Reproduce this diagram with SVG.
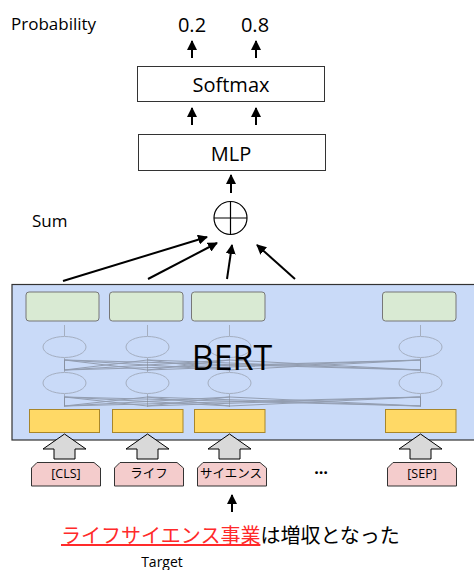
<svg xmlns="http://www.w3.org/2000/svg" width="474" height="570" viewBox="0 0 474 570">
<defs>
<marker id="ah" viewBox="0 0 10 10" refX="9" refY="5" markerWidth="5" markerHeight="5" orient="auto"><path d="M0,0 L10,5 L0,10 z" fill="#000"/></marker>
<style>
text{font-family:"Open Sans","Noto Sans","Noto Sans CJK JP",sans-serif;fill:#000}
.box{fill:#fff;stroke:#333;stroke-width:1}
.arr{stroke:#000;stroke-width:2;fill:none;marker-end:url(#ah)}
.green{fill:#d9ead3;stroke:#777;stroke-width:1}
.yellow{fill:#ffd966;stroke:#a8862a;stroke-width:1}
.ell{fill:none;stroke:#a4aec0;stroke-width:1}
.gl{stroke:#7d8594;stroke-width:1;opacity:0.7}
.vl{stroke:#a4aec0;stroke-width:1}
.blk{fill:#d9d9d9;stroke:#000;stroke-width:1}
.tok{fill:#f4cccc;stroke:#333;stroke-width:1}
.tt{font-size:12.5px;text-anchor:middle}
</style>
</defs>
<rect width="474" height="570" fill="#fff"/>
<g id="probability"><text x="11" y="30" font-size="17">Probability</text></g>
<g id="p02"><text x="192" y="32" font-size="20" text-anchor="middle">0.2</text></g>
<g id="p08"><text x="255" y="32" font-size="20" text-anchor="middle">0.8</text></g>
<g id="softmax"><rect class="box" x="137.5" y="66.5" width="187" height="35"/><text x="231" y="92" font-size="20" text-anchor="middle">Softmax</text></g>
<g id="mlp"><rect class="box" x="138.5" y="134.5" width="187" height="36"/><text x="231" y="161" font-size="20" text-anchor="middle">MLP</text></g>
<g id="sum-label"><text x="32" y="227" font-size="17">Sum</text></g>
<g id="sum"><circle cx="230.5" cy="218" r="16.5" fill="#fff" stroke="#000" stroke-width="1.2"/><path d="M214,218 H247 M230.5,201.5 V234.5" stroke="#000" stroke-width="1.2"/></g>
<g id="bert">
<rect x="12" y="284.5" width="464" height="155.5" fill="#c9daf8" stroke="#333" stroke-width="1.2"/>
<rect class="green" x="26" y="292" width="73" height="29" rx="3"/>
<rect class="green" x="109.5" y="292" width="73.5" height="29" rx="3"/>
<rect class="green" x="191.5" y="292" width="73.5" height="29" rx="3"/>
<rect class="green" x="382.5" y="292" width="73.5" height="29" rx="3"/>
<g>
<path class="vl" d="M64.5,325 V336 M147.5,325 V336 M229.5,325 V336 M420.5,325 V336 M64.5,358 V372 M147.5,358 V372 M229.5,358 V372 M420.5,358 V372 M64.5,394 V407 M147.5,394 V407 M229.5,394 V407 M420.5,394 V407"/>
<ellipse class="ell" cx="64.5" cy="347" rx="21.5" ry="10.5"/>
<ellipse class="ell" cx="147.5" cy="347" rx="21.5" ry="10.5"/>
<ellipse class="ell" cx="229.5" cy="347" rx="21.5" ry="10.5"/>
<ellipse class="ell" cx="420.5" cy="347" rx="21.5" ry="10.5"/>
<ellipse class="ell" cx="64.5" cy="383" rx="21.5" ry="10.5"/>
<ellipse class="ell" cx="147.5" cy="383" rx="21.5" ry="10.5"/>
<ellipse class="ell" cx="229.5" cy="383" rx="21.5" ry="10.5"/>
<ellipse class="ell" cx="420.5" cy="383" rx="21.5" ry="10.5"/>
<path class="gl" d="M64.5,360 L147.5,370 M64.5,360 L229.5,370 M64.5,360 L420.5,370 M147.5,360 L64.5,370 M147.5,360 L229.5,370 M147.5,360 L420.5,370 M229.5,360 L64.5,370 M229.5,360 L147.5,370 M229.5,360 L420.5,370 M420.5,360 L64.5,370 M420.5,360 L147.5,370 M420.5,360 L229.5,370 M64.5,360 V370 M420.5,360 V370"/>
<path class="gl" d="M64.5,397 L147.5,406 M64.5,397 L229.5,406 M64.5,397 L420.5,406 M147.5,397 L64.5,406 M147.5,397 L229.5,406 M147.5,397 L420.5,406 M229.5,397 L64.5,406 M229.5,397 L147.5,406 M229.5,397 L420.5,406 M420.5,397 L64.5,406 M420.5,397 L147.5,406 M420.5,397 L229.5,406 M64.5,397 V406 M420.5,397 V406"/>
</g>
<rect class="yellow" x="29.5" y="409.5" width="70" height="23"/>
<rect class="yellow" x="112.5" y="409.5" width="70.5" height="23"/>
<rect class="yellow" x="194.5" y="409.5" width="70.5" height="23"/>
<rect class="yellow" x="385.5" y="409.5" width="70.5" height="23"/>
<text x="232" y="370" font-size="34" text-anchor="middle">BERT</text>
</g>
<g id="tok-cls"><path class="blk" d="M64.5,434 L86,449 L75,449 L75,459 L54,459 L54,449 L43,449 Z"/><path class="tok" d="M37,462.5 H94 L100.5,468 V486 H31.5 V468 Z"/><text class="tt" x="66" y="478">[CLS]</text></g>
<g id="tok-life"><path class="blk" d="M147.5,434 L169,449 L158,449 L158,459 L137,459 L137,449 L126,449 Z"/><path class="tok" d="M120,462.5 H177 L183.5,468 V486 H114.5 V468 Z"/><text class="tt" x="149" y="478">ライフ</text></g>
<g id="tok-science"><path class="blk" d="M229.5,434 L251,449 L240,449 L240,459 L219,459 L219,449 L208,449 Z"/><path class="tok" d="M203,462.5 H260 L266.5,468 V486 H197.5 V468 Z" stroke="#000"/><text class="tt" x="231" y="478">サイエンス</text></g>
<g id="dots"><text x="321" y="474" font-size="16" font-weight="bold" text-anchor="middle">…</text></g>
<g id="tok-sep"><path class="blk" d="M420.5,434 L442,449 L431,449 L431,459 L410,459 L410,449 L399,449 Z"/><path class="tok" d="M393,462.5 H450 L456.5,468 V486 H387.5 V468 Z"/><text class="tt" x="422" y="478">[SEP]</text></g>
<g id="connectors">
<line class="arr" x1="192" y1="58" x2="192" y2="41"/>
<line class="arr" x1="256" y1="58" x2="256" y2="41"/>
<line class="arr" x1="192" y1="125" x2="192" y2="108"/>
<line class="arr" x1="256" y1="125" x2="256" y2="108"/>
<line class="arr" x1="231" y1="193" x2="231" y2="175"/>
<line class="arr" x1="63" y1="281" x2="207" y2="237"/>
<line class="arr" x1="148" y1="279" x2="217" y2="243"/>
<line class="arr" x1="227" y1="279" x2="232" y2="245"/>
<line class="arr" x1="295" y1="279" x2="257" y2="245"/>
<line class="arr" x1="232" y1="512" x2="232" y2="495"/>
</g>
<g id="sentence"><text x="61" y="543" font-size="20" font-family="'Noto Sans CJK JP',sans-serif"><tspan fill="#ff2a2a" text-decoration="underline">ライフサイエンス事業</tspan>は増収となった</text></g>
<g id="target"><text x="162" y="567" font-size="14" text-anchor="middle">Target</text></g>
</svg>
